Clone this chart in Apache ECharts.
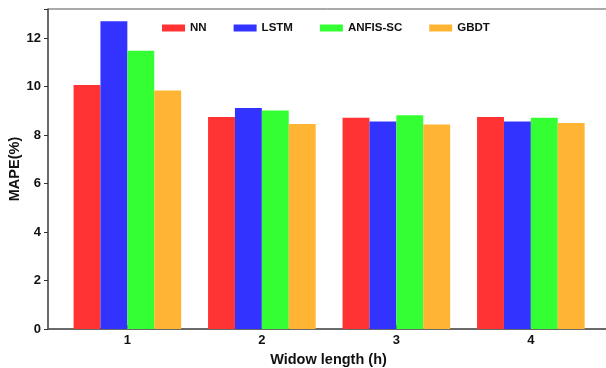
<!DOCTYPE html>
<html>
<head>
<meta charset="utf-8">
<script src="https://cdn.jsdelivr.net/npm/echarts@6/dist/echarts.min.js"></script>
<style>html,body{margin:0;padding:0;background:#fff;}#c{width:606px;height:368px;}</style>
</head>
<body>
<div id="c"></div>
<script>
var windows = [1, 2, 3, 4];
var seriesNames = ['NN', 'LSTM', 'ANFIS-SC', 'GBDT'];
var nnValues = [10.07, 8.75, 8.71, 8.74];
var lstmValues = [12.69, 9.12, 8.56, 8.56];
var anfisValues = [11.48, 9.01, 8.82, 8.71];
var gbdtValues = [9.84, 8.46, 8.44, 8.50];
var yTicks = [0, 2, 4, 6, 8, 10, 12];
var colors = ['#FF3333', '#3333FF', '#33FF33', '#FFB433'];

var allValues = [nnValues, lstmValues, anfisValues, gbdtValues];
var font = 'Liberation Sans, Arial, sans-serif';
var chart = echarts.init(document.getElementById('c'), null, {renderer: 'canvas'});
var series = seriesNames.map(function (name, i) {
  return {
    name: name,
    type: 'bar',
    barGap: '0%',
    barCategoryGap: '20%',
    itemStyle: {color: colors[i]},
    data: windows.map(function (w, j) { return [w, allValues[i][j]]; })
  };
});
chart.setOption({
  animation: false,
  textStyle: {fontFamily: font},
  grid: {left: 48, top: 9, right: -19, bottom: 39, containLabel: false, outerBoundsMode: 'none',
    show: true, borderColor: '#555', borderWidth: 1, backgroundColor: 'transparent'},
  legend: {
    left: 157, top: 17, itemWidth: 23, itemHeight: 7, itemGap: 27,
    icon: 'rect',
    textStyle: {fontFamily: font, fontWeight: 'bold', fontSize: 11.5, color: '#111'},
    data: seriesNames
  },
  xAxis: {
    type: 'value', min: 0.41, max: 4.7,
    splitLine: {show: false},
    axisLine: {lineStyle: {color: '#555', width: 1.5}},
    axisTick: {show: true, inside: true, length: 4, customValues: windows, lineStyle: {color: '#333'}},
    axisLabel: {customValues: windows, fontFamily: font, fontWeight: 'bold', fontSize: 13, color: '#111', margin: 5},
    name: 'Widow length (h)', nameLocation: 'middle', nameGap: 23, nameMoveOverlap: false,
    nameTextStyle: {fontFamily: font, fontWeight: 'bold', fontSize: 14.5, color: '#111', padding: [0, 16, 0, 0]}
  },
  yAxis: {
    type: 'value', min: 0, max: 13.2, interval: 2,
    splitLine: {show: false},
    axisLine: {show: true, lineStyle: {color: '#555', width: 1.5}},
    axisTick: {show: true, length: 4, lineStyle: {color: '#333'}},
    axisLabel: {fontFamily: font, fontWeight: 'bold', fontSize: 13, color: '#111', margin: 7,
      customValues: yTicks},
    name: 'MAPE(%)', nameLocation: 'middle', nameGap: 26, nameRotate: 90, nameMoveOverlap: false,
    nameTextStyle: {fontFamily: font, fontWeight: 'bold', fontSize: 14.5, color: '#111'}
  },
  series: series
});
</script>
</body>
</html>
